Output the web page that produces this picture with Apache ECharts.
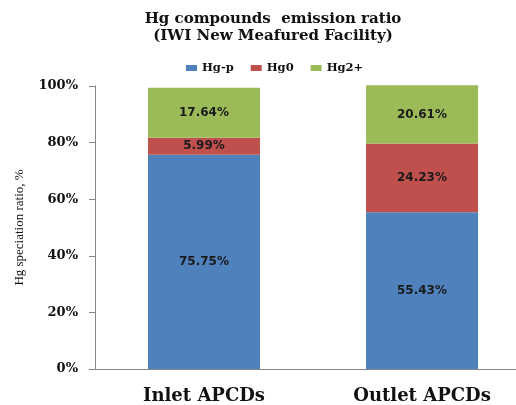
<!DOCTYPE html>
<html>
<head>
<meta charset="utf-8">
<script src="https://cdn.jsdelivr.net/npm/echarts@6/dist/echarts.min.js"></script>
<style>
  html, body { margin: 0; padding: 0; background: #fff; overflow: hidden; }
  /* plot area runs a little past the right edge of the window */
  #chart { width: 531px; height: 405px; }
</style>
</head>
<body>
<div id="chart"></div>
<script>
// Sampling points and Hg speciation shares (%)
const categories = ['Inlet APCDs', 'Outlet APCDs'];
const hgP = [75.75, 55.43];
const hg0 = [5.99, 24.23];
const hg2 = [17.64, 20.61];
const yTicks = [0, 20, 40, 60, 80, 100];

const wideSerif = '"DejaVu Serif", "Liberation Serif", serif';
const labelFont = {
  show: true,
  position: 'inside',
  fontFamily: '"DejaVu Sans", Verdana, sans-serif',
  fontWeight: 'bold',
  fontSize: 12,
  color: '#1a1a1a',
  formatter: p => p.value.toFixed(2) + '%'
};

const chart = echarts.init(document.getElementById('chart'));
chart.setOption({
  animation: false,
  title: {
    text: 'Hg compounds  emission ratio\n(IWI New Meafured Facility)',
    left: 268,
    top: 6,
    textAlign: 'center',
    textStyle: {
      fontFamily: wideSerif,
      fontWeight: 'bold',
      fontSize: 15,
      lineHeight: 17,
      color: '#111'
    }
  },
  legend: {
    top: 57,
    left: 181,
    icon: 'rect',
    itemWidth: 11,
    itemHeight: 6,
    itemGap: 17,
    textStyle: { fontFamily: wideSerif, fontWeight: 'bold', fontSize: 11.5, color: '#111' },
    data: ['Hg-p', 'Hg0', 'Hg2+']
  },
  grid: { left: 95, right: 0, top: 86, bottom: 32 },
  xAxis: {
    type: 'category',
    data: categories,
    axisLine: { lineStyle: { color: '#868686' } },
    axisTick: { show: false },
    axisLabel: {
      fontFamily: wideSerif,
      fontWeight: 'bold',
      fontSize: 18,
      color: '#111',
      margin: 18
    }
  },
  yAxis: {
    type: 'value',
    min: yTicks[0],
    max: yTicks[yTicks.length - 1],
    interval: yTicks[1] - yTicks[0],
    name: 'Hg speciation ratio, %',
    nameLocation: 'middle',
    nameGap: 69,
    nameTextStyle: { fontFamily: '"Liberation Serif", serif', fontSize: 13, color: '#111' },
    axisLine: { show: true, lineStyle: { color: '#868686' } },
    axisTick: { show: true, length: 6, lineStyle: { color: '#868686' } },
    splitLine: { show: false },
    axisLabel: {
      fontFamily: wideSerif,
      fontWeight: 'bold',
      fontSize: 13,
      color: '#111',
      margin: 17,
      formatter: v => v + '%'
    }
  },
  series: [
    { name: 'Hg-p', type: 'bar', stack: 'hg', data: hgP, barWidth: 112, clip: false,
      itemStyle: { color: '#4F81BD' }, label: labelFont },
    { name: 'Hg0', type: 'bar', stack: 'hg', data: hg0, clip: false,
      itemStyle: { color: '#C0504D' }, label: labelFont },
    { name: 'Hg2+', type: 'bar', stack: 'hg', data: hg2, clip: false,
      itemStyle: { color: '#9BBB59' }, label: labelFont }
  ]
});
</script>
</body>
</html>
